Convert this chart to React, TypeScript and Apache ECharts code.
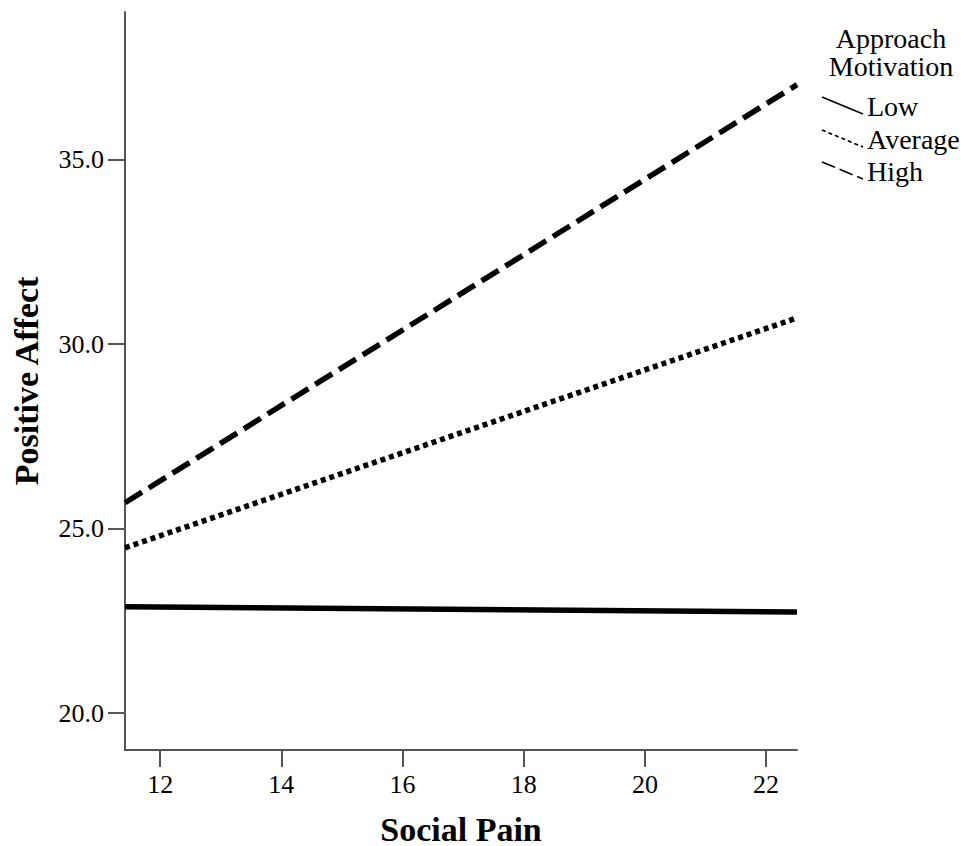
import React, { useEffect, useRef } from "react";
import * as echarts from "echarts";

const xRange = [11.42, 22.51];
const xTicks = [12, 14, 16, 18, 20, 22];
const yTicks = [20, 25, 30, 35];
const seriesNames = ["Low", "Average", "High"];
const lowValues = [22.88, 22.74];
const averageValues = [24.48, 30.71];
const highValues = [25.7, 37.03];

const FONT = "'Liberation Serif', 'DejaVu Serif', serif";

export default function App() {
  const ref = useRef<HTMLDivElement>(null);
  useEffect(() => {
    if (!ref.current) return;
    const chart = echarts.init(ref.current, null, { renderer: "svg" });
    const mk = (vals: number[]) => [
      [xRange[0], vals[0]],
      [xRange[1], vals[1]],
    ];
    const legendY = [106, 139, 171];
    const legendLineTypes: any[] = ["solid", [4, 3], [14, 5]];
    const graphic: any[] = [
      {
        type: "text",
        style: {
          text: "Approach",
          x: 891,
          y: 38,
          align: "center",
          verticalAlign: "middle",
          font: `28px ${FONT}`,
          fill: "#000",
        },
      },
      {
        type: "text",
        style: {
          text: "Motivation",
          x: 891,
          y: 66,
          align: "center",
          verticalAlign: "middle",
          font: `28px ${FONT}`,
          fill: "#000",
        },
      },
    ];
    seriesNames.forEach((n, i) => {
      graphic.push({
        type: "line",
        shape: { x1: 822, y1: legendY[i] - 9, x2: 863, y2: legendY[i] + 8 },
        style: { stroke: "#000", lineWidth: 1.6, lineDash: legendLineTypes[i] === "solid" ? null : legendLineTypes[i] },
      });
      graphic.push({
        type: "text",
        style: {
          text: n,
          x: 867,
          y: legendY[i],
          align: "left",
          verticalAlign: "middle",
          font: `28px ${FONT}`,
          fill: "#000",
        },
      });
    });
    chart.setOption({
      animation: false,
      backgroundColor: "#fff",
      grid: { left: 125, top: 12, right: 168, bottom: 96, containLabel: false, outerBoundsMode: "none" },
      xAxis: {
        type: "value",
        min: xRange[0],
        max: xRange[1],
        name: "Social Pain",
        nameLocation: "middle",
        nameGap: 62,
        nameMoveOverlap: false,
        nameTextStyle: { fontFamily: FONT, fontSize: 34, fontWeight: "bold", color: "#000" },
        axisLine: { show: true, onZero: false, lineStyle: { color: "#555", width: 2 } },
        axisTick: { show: true, length: 17, customValues: xTicks, lineStyle: { color: "#555", width: 2 } },
        axisLabel: {
          customValues: xTicks,
          fontFamily: FONT,
          fontSize: 26,
          color: "#000",
          margin: 21,
          showMinLabel: true,
          showMaxLabel: true,
        },
        splitLine: { show: false },
      },
      yAxis: {
        type: "value",
        min: 19,
        max: 39,
        name: "Positive Affect",
        nameLocation: "middle",
        nameGap: 82,
        nameRotate: 90,
        nameMoveOverlap: false,
        nameTextStyle: { fontFamily: FONT, fontSize: 34, fontWeight: "bold", color: "#000" },
        axisLine: { show: true, onZero: false, lineStyle: { color: "#555", width: 2 } },
        axisTick: { show: true, length: 17, customValues: yTicks, lineStyle: { color: "#555", width: 2 } },
        axisLabel: {
          customValues: yTicks,
          fontFamily: FONT,
          fontSize: 26,
          color: "#000",
          margin: 21,
          formatter: (v: number) => v.toFixed(1),
        },
        splitLine: { show: false },
      },
      graphic,
      series: [
        {
          name: "Low",
          type: "line",
          data: mk(lowValues),
          symbol: "none",
          lineStyle: { color: "#000", width: 5.5, type: "solid" },
        },
        {
          name: "Average",
          type: "line",
          data: mk(averageValues),
          symbol: "none",
          lineStyle: { color: "#000", width: 5.5, type: [5, 4] },
        },
        {
          name: "High",
          type: "line",
          data: mk(highValues),
          symbol: "none",
          lineStyle: { color: "#000", width: 5.5, type: [20, 8] },
        },
      ],
    });
    return () => chart.dispose();
  }, []);
  return (
    <div
      ref={ref}
      style={{ position: "fixed", left: 0, top: 0, width: 965, height: 846, background: "#fff" }}
    />
  );
}
